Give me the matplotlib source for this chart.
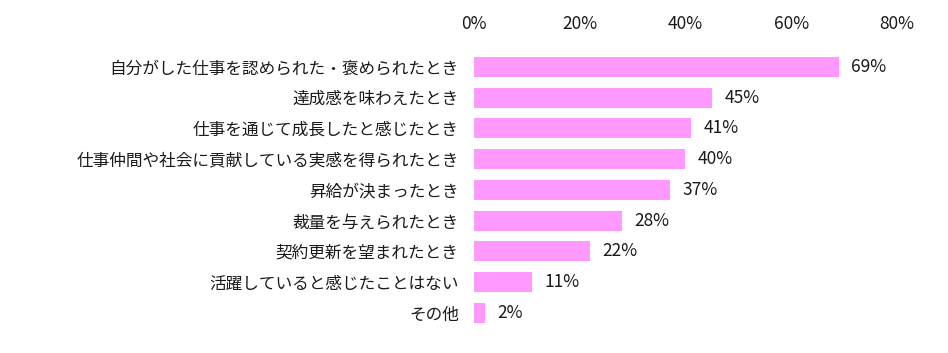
import matplotlib
matplotlib.use("Agg")
import matplotlib.pyplot as plt

plt.rcParams['font.family'] = ['Noto Sans CJK JP', 'DejaVu Sans']

categories = [
    "自分がした仕事を認められた・褒められたとき",
    "達成感を味わえたとき",
    "仕事を通じて成長したと感じたとき",
    "仕事仲間や社会に貢献している実感を得られたとき",
    "昇給が決まったとき",
    "裁量を与えられたとき",
    "契約更新を望まれたとき",
    "活躍していると感じたことはない",
    "その他",
]
values = [69, 45, 41, 40, 37, 28, 22, 11, 2]
xticks = [0, 20, 40, 60, 80]
xtick_labels = ["0%", "20%", "40%", "60%", "80%"]

fig = plt.figure(figsize=(9.48, 3.53), dpi=100)
ax = fig.add_axes([0.5, 0.0697, 0.446, 0.7843])
ypos = list(range(len(categories)))
ax.barh(ypos, values, height=0.65, color="#FF99FF")
ax.set_ylim(len(categories) - 0.5, -0.5)
ax.set_xlim(0, 80)
ax.set_yticks(ypos)
ax.set_yticklabels(categories, fontsize=12, color="#1a1a1a")
ax.set_xticks(xticks)
ax.set_xticklabels(xtick_labels, fontsize=12.5, color="#1a1a1a")
ax.xaxis.tick_top()
ax.tick_params(axis='x', length=0, pad=13)
ax.tick_params(axis='y', length=0, pad=11)
for s in ax.spines.values():
    s.set_visible(False)
for y, v in zip(ypos, values):
    ax.annotate(f"{v}%", xy=(v, y), xytext=(9, 0), textcoords="offset points",
                va="center", ha="left", fontsize=12.5, color="#1a1a1a")
fig.savefig("out.png", dpi=100)
